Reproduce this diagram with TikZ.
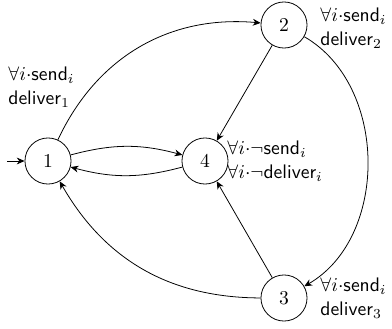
\documentclass[tikz,border=0pt]{standalone}
\usetikzlibrary{automata,arrows.meta}
\begin{document}
\begin{tikzpicture}[x=0.51pt,y=-0.51pt,
  st/.style={draw,circle,minimum size=23.5pt,inner sep=0pt},
  lab/.style={align=left,anchor=west,inner sep=0pt},
  every edge/.style={draw,-{Stealth[length=4pt,width=3.5pt]}},
  >={Stealth[length=4pt,width=3.5pt]}]
\useasboundingbox (0,0) rectangle (392,329);
\node[st] (n1) at (48,161) {$1$};
\node[st] (n4) at (205,161) {$4$};
\node[st] (n2) at (284,25) {$2$};
\node[st] (n3) at (284,298) {$3$};
\coordinate (s) at (7,161);
\node[lab] (l1) at (8,87) {$\forall i{\cdot}\textsf{send}_i$\\\textsf{deliver}$_1$};
\node[lab] (l2) at (320,28) {$\forall i{\cdot}\textsf{send}_i$\\\textsf{deliver}$_2$};
\node[lab] (l3) at (320,298) {$\forall i{\cdot}\textsf{send}_i$\\\textsf{deliver}$_3$};
\node[lab] (l4) at (227,161) {$\forall i{\cdot}\neg\textsf{send}_i$\\$\forall i{\cdot}\neg\textsf{deliver}_i$};
\draw[->] (s) -- (n1);
\path (n1) edge[bend left=35] (n2)
      (n1) edge[bend left=15] (n4)
      (n4) edge[bend left=15] (n1)
      (n2) edge (n4)
      (n3) edge (n4)
      (n2) edge[bend left=60] (n3)
      (n3) edge[bend left=30] (n1);
\end{tikzpicture}
\end{document}
